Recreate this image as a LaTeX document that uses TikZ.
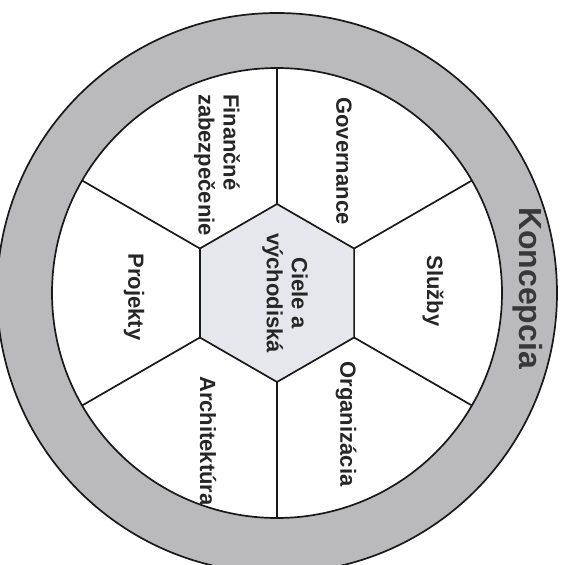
\documentclass[tikz,border=0pt]{standalone}
\usepackage{fontspec}
\setmainfont{Liberation Sans}
\begin{document}
\begin{tikzpicture}[x=1pt,y=-1pt,
  outline/.style={draw=black!90, line width=1.7pt},
  sectorlabel/.style={rotate=-90, font=\bfseries\fontsize{22}{25}\selectfont, text=black!85, inner sep=0pt},
  ringlabel/.style={rotate=-90, font=\bfseries\fontsize{32}{36}\selectfont, text=black!78, inner sep=0pt}
]
\definecolor{ringgray}{RGB}{186,186,189}
\definecolor{hexfill}{RGB}{230,230,237}
\useasboundingbox (0,0) rectangle (564,565);
\fill[white] (0,0) rectangle (564,565);
% outer ring and inner disc
\draw[outline, fill=ringgray] (277,293) circle[radius=280];
\draw[outline, fill=white] (277,293) circle[radius=225];
% hexagon vertices
\coordinate (ht) at (277,204);
\coordinate (hur) at (354.1,248.5);
\coordinate (hlr) at (354.1,337.5);
\coordinate (hb) at (277,382);
\coordinate (hll) at (199.9,337.5);
\coordinate (hul) at (199.9,248.5);
% circle points
\coordinate (ct) at (277,68);
\coordinate (cur) at (471.9,180.5);
\coordinate (clr) at (471.9,405.5);
\coordinate (cb) at (277,518);
\coordinate (cll) at (82.1,405.5);
\coordinate (cul) at (82.1,180.5);
% hexagon
\draw[outline, fill=hexfill, line join=miter] (ht) -- (hur) -- (hlr) -- (hb) -- (hll) -- (hul) -- cycle;
% radial lines
\draw[outline] (ht) -- (ct);
\draw[outline] (hur) -- (cur);
\draw[outline] (hlr) -- (clr);
\draw[outline] (hb) -- (cb);
\draw[outline] (hll) -- (cll);
\draw[outline] (hul) -- (cul);
% labels
\node[ringlabel] (konc) at (528,288) {Koncepcia};
\node[sectorlabel] (gov) at (344,161) {Governance};
\node[sectorlabel] (sluz) at (433,291) {Služby};
\node[sectorlabel] (org) at (346,424) {Organizácia};
\node[sectorlabel] (arch) at (208,441) {Architektúra};
\node[sectorlabel] (proj) at (134,297) {Projekty};
\node[sectorlabel, align=left] (fin) at (217,165) {Finančné\\zabezpečenie};
\node[sectorlabel, align=center] (ciele) at (285,293) {Ciele a\\východiská};
\end{tikzpicture}
\end{document}
